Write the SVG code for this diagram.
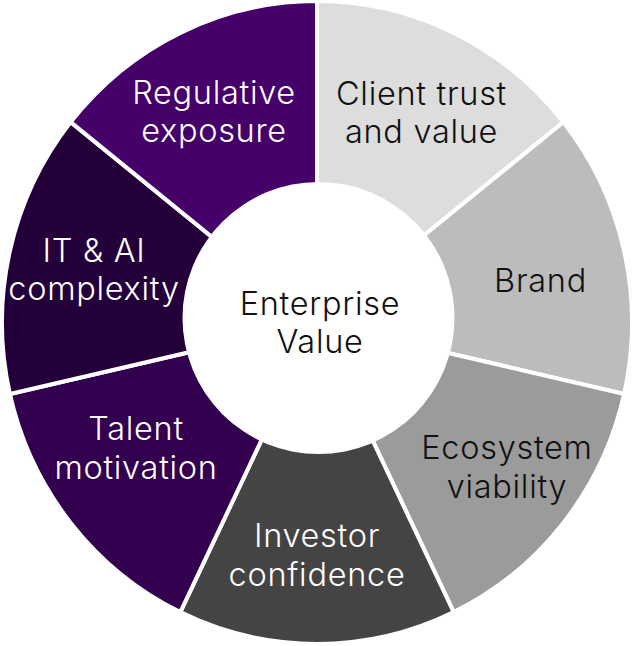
<svg xmlns="http://www.w3.org/2000/svg" width="634" height="646" viewBox="0 0 634 646">
<style>
.seg{stroke:#ffffff;stroke-width:4;stroke-linejoin:miter}
.t{font-family:Inter,"Liberation Sans",sans-serif;font-size:32.5px;font-weight:300;letter-spacing:0.7px;text-anchor:middle}
.w{fill:#ffffff}
.k{fill:#111111}
</style>
<rect width="634" height="646" fill="#ffffff"/>
<g id="ring" transform="translate(317,322.5) scale(1,1.0206)">
<g id="seg-client"><path class="seg" fill="#dddddd" d="M0,0 L0,-315 A315,315 0 0 1 246.28,-196.40 Z"/></g>
<g id="seg-brand"><path class="seg" fill="#bcbcbc" d="M0,0 L246.28,-196.40 A315,315 0 0 1 307.10,70.09 Z"/></g>
<g id="seg-ecosystem"><path class="seg" fill="#9b9b9b" d="M0,0 L307.10,70.09 A315,315 0 0 1 136.67,283.81 Z"/></g>
<g id="seg-investor"><path class="seg" fill="#444444" d="M0,0 L136.67,283.81 A315,315 0 0 1 -136.67,283.81 Z"/></g>
<g id="seg-talent"><path class="seg" fill="#330050" d="M0,0 L-136.67,283.81 A315,315 0 0 1 -307.10,70.09 Z"/></g>
<g id="seg-it"><path class="seg" fill="#24003a" d="M0,0 L-307.10,70.09 A315,315 0 0 1 -246.28,-196.40 Z"/></g>
<g id="seg-regulative"><path class="seg" fill="#46006a" d="M0,0 L-246.28,-196.40 A315,315 0 0 1 0,-315 Z"/></g>
</g>
<g id="center">
<circle cx="318.5" cy="318" r="136" fill="#ffffff"/>
<text class="t k" x="320" y="315">Enterprise</text>
<text class="t k" x="320" y="353">Value</text>
</g>
<g id="labels">
<g id="label-client"><text class="t k" x="421.5" y="104.5">Client trust</text><text class="t k" x="421.5" y="143">and value</text></g>
<g id="label-brand"><text class="t k" x="540.5" y="292">Brand</text></g>
<g id="label-ecosystem"><text class="t k" x="507" y="459">Ecosystem</text><text class="t k" x="507" y="498">viability</text></g>
<g id="label-investor"><text class="t w" x="317" y="547">Investor</text><text class="t w" x="317" y="586">confidence</text></g>
<g id="label-talent"><text class="t w" x="136" y="440">Talent</text><text class="t w" x="136" y="478.5">motivation</text></g>
<g id="label-it"><text class="t w" x="94" y="261.5">IT &amp; AI</text><text class="t w" x="94" y="300">complexity</text></g>
<g id="label-regulative"><text class="t w" x="214" y="104">Regulative</text><text class="t w" x="214" y="142">exposure</text></g>
</g>
<g id="connectors"></g>
</svg>
